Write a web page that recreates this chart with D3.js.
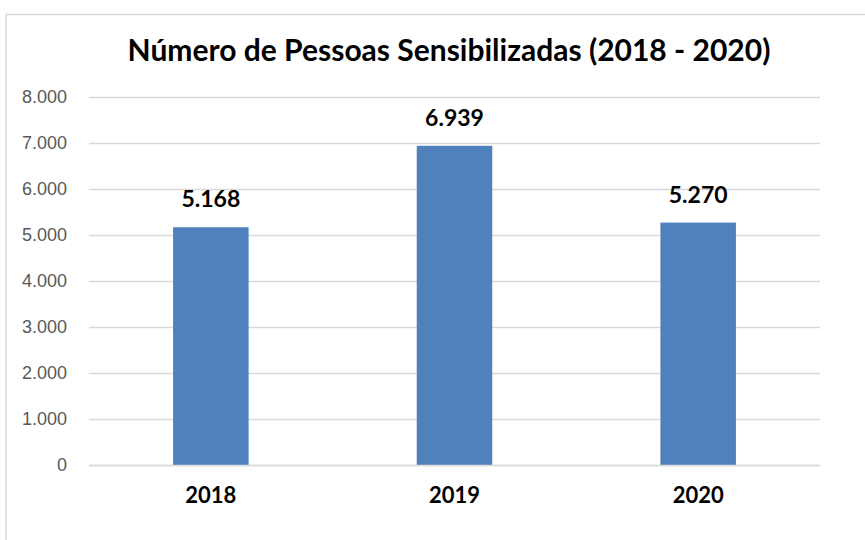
<!DOCTYPE html>
<html><head><meta charset="utf-8">
<script src="https://cdn.jsdelivr.net/npm/d3@7"></script>
<style>body{margin:0;background:#fff}svg{display:block}</style>
</head><body>
<script>
const categories = ["2018", "2019", "2020"];
const values = [5168, 6939, 5270];
const valueLabels = ["5.168", "6.939", "5.270"];
const yTicks = [0, 1000, 2000, 3000, 4000, 5000, 6000, 7000, 8000];
const yTickLabels = ["0", "1.000", "2.000", "3.000", "4.000", "5.000", "6.000", "7.000", "8.000"];
const title = "Número de Pessoas Sensibilizadas (2018 - 2020)";

const W = 865, H = 540;
const svg = d3.select("body").append("svg").attr("width", W).attr("height", H);

// chart frame
svg.append("path").attr("d", "M6,540 V14.5 H865").attr("fill", "none").attr("stroke", "#d9d9d9").attr("stroke-width", 1.5);

const x = d3.scaleBand().domain(categories).range([89, 820]).paddingInner(0.69).paddingOuter(0.345);
const y = d3.scaleLinear().domain([0, 8000]).range([465, 97]);

// gridlines
const grid = svg.append("g").attr("transform", "translate(89,0)")
  .call(d3.axisLeft(y).tickValues(yTicks).tickSize(-731).tickFormat(""));
grid.select(".domain").remove();
grid.selectAll("line").attr("stroke", "#d9d9d9").attr("stroke-width", 1.3);

// y tick labels
const yax = svg.append("g").attr("transform", "translate(67,0)")
  .call(d3.axisLeft(y).tickValues(yTicks).tickSize(0).tickPadding(0).tickFormat((d, i) => yTickLabels[i]));
yax.select(".domain").remove();
yax.selectAll("text").attr("font-family", "'Liberation Sans', Arial, sans-serif").attr("font-size", 18).attr("fill", "#595959");

// bars
svg.selectAll("rect.bar").data(values).join("rect").attr("class", "bar")
  .attr("x", (d, i) => x(categories[i])).attr("width", x.bandwidth())
  .attr("y", d => y(d)).attr("height", d => y(0) - y(d))
  .attr("fill", "#4f81bd");

// data labels
svg.selectAll("text.val").data(values).join("text").attr("class", "val")
  .attr("x", (d, i) => x(categories[i]) + x.bandwidth() / 2)
  .attr("y", d => y(d) - 20)
  .attr("text-anchor", "middle")
  .attr("font-family", "Lato, sans-serif").attr("font-weight", "bold").attr("font-size", 23)
  .attr("fill", "#000").text((d, i) => valueLabels[i]);

// x labels
const xax = svg.append("g").attr("transform", "translate(0,465)")
  .call(d3.axisBottom(x).tickSize(0).tickPadding(0));
xax.select(".domain").attr("stroke", "#d9d9d9").attr("stroke-width", 1.5);
xax.selectAll("text").attr("dy", 0).attr("y", 38)
  .attr("font-family", "Lato, sans-serif").attr("font-weight", "bold").attr("font-size", 22).attr("fill", "#000");

// title
svg.append("text").attr("x", 449).attr("y", 61).attr("text-anchor", "middle")
  .attr("font-family", "Lato, sans-serif").attr("font-weight", "bold").attr("font-size", 30)
  .attr("fill", "#000").text(title);
</script>
</body></html>
